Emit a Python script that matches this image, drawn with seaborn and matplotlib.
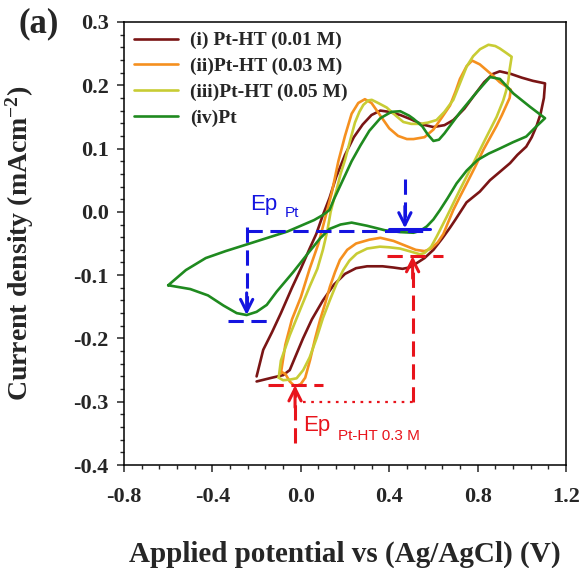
import matplotlib
matplotlib.use("Agg")
import matplotlib.pyplot as plt
from matplotlib.ticker import MultipleLocator
import pandas as pd
import seaborn as sns

# series labels and colours
labels = ["(i) Pt-HT (0.01 M)", "(ii)Pt-HT (0.03 M)", "(iii)Pt-HT (0.05 M)", "(iv)Pt"]
colors = ["#7a1515", "#f5901f", "#c8cc34", "#1f8a1f"]

# (i) Pt-HT 0.01 M : forward scan then reverse scan (V, mA cm-2)
v_i = [-0.20, -0.17, -0.13, -0.09, -0.04, 0.00, 0.04, 0.07, 0.10, 0.13, 0.16, 0.20,
       0.24, 0.28, 0.32, 0.36, 0.40, 0.45, 0.50, 0.55, 0.60, 0.65, 0.69, 0.74, 0.78,
       0.83, 0.87, 0.90, 0.95, 1.00, 1.05, 1.105,
       1.10, 1.085, 1.067, 1.045, 1.02, 0.98, 0.947, 0.90, 0.856, 0.81, 0.75, 0.70,
       0.675, 0.64, 0.60, 0.56, 0.52, 0.49, 0.46, 0.42, 0.37, 0.30, 0.25, 0.20, 0.15,
       0.10, 0.05, 0.01, -0.02, -0.05, -0.08, -0.13, -0.20]
j_i = [-0.260, -0.218, -0.190, -0.160, -0.120, -0.090, -0.058, -0.035, -0.005, 0.022,
       0.055, 0.090, 0.118, 0.138, 0.153, 0.160, 0.158, 0.153, 0.146, 0.138, 0.134,
       0.137, 0.145, 0.163, 0.182, 0.205, 0.218, 0.222, 0.218, 0.212, 0.207, 0.203,
       0.180, 0.155, 0.136, 0.118, 0.103, 0.090, 0.077, 0.063, 0.050, 0.032, 0.015,
       -0.012, -0.025, -0.042, -0.060, -0.073, -0.082, -0.088, -0.090, -0.088, -0.086,
       -0.086, -0.089, -0.098, -0.115, -0.140, -0.170, -0.200, -0.225, -0.250, -0.258,
       -0.262, -0.268]

# (ii) Pt-HT 0.03 M
v_ii = [-0.09, -0.07, -0.04, 0.00, 0.04, 0.08, 0.11, 0.14, 0.17, 0.20, 0.23, 0.26,
        0.29, 0.32, 0.36, 0.40, 0.44, 0.48, 0.51, 0.56, 0.60, 0.64, 0.675, 0.70, 0.72,
        0.75, 0.775, 0.81, 0.84, 0.87, 0.90, 0.93, 0.95,
        0.945, 0.932, 0.91, 0.886, 0.856, 0.826, 0.79, 0.751, 0.72, 0.69, 0.665, 0.645,
        0.62, 0.59, 0.56, 0.52, 0.47, 0.42, 0.36, 0.31, 0.25, 0.21, 0.177, 0.155,
        0.132, 0.11, 0.087, 0.065, 0.042, 0.02, 0.00, -0.026, -0.05, -0.07, -0.087, -0.09]
j_ii = [-0.255, -0.210, -0.170, -0.135, -0.090, -0.050, -0.010, 0.030, 0.080, 0.120,
        0.155, 0.172, 0.178, 0.172, 0.152, 0.132, 0.120, 0.115, 0.115, 0.118, 0.130,
        0.150, 0.168, 0.190, 0.210, 0.230, 0.239, 0.233, 0.224, 0.215, 0.205, 0.198, 0.193,
        0.180, 0.170, 0.153, 0.136, 0.117, 0.098, 0.072, 0.045, 0.024, 0.003, -0.018,
        -0.035, -0.048, -0.058, -0.062, -0.060, -0.053, -0.046, -0.041, -0.044, -0.050,
        -0.060, -0.076, -0.095, -0.118, -0.145, -0.171, -0.200, -0.234, -0.262, -0.272,
        -0.276, -0.268, -0.256, -0.253, -0.255]

# (iii) Pt-HT 0.05 M
v_iii = [-0.10, -0.09, -0.05, 0.00, 0.04, 0.075, 0.10, 0.12, 0.135, 0.15, 0.162, 0.18,
         0.20, 0.225, 0.245, 0.265, 0.283, 0.305, 0.321, 0.35, 0.388, 0.43, 0.464, 0.50,
         0.539, 0.575, 0.614, 0.65, 0.69, 0.72, 0.751, 0.78, 0.811, 0.849, 0.88, 0.901,
         0.93, 0.954,
         0.945, 0.939, 0.928, 0.916, 0.886, 0.841, 0.781, 0.72, 0.66, 0.615, 0.59, 0.56,
         0.539, 0.50, 0.449, 0.40, 0.358, 0.30, 0.253, 0.22, 0.192, 0.16, 0.132, 0.10,
         0.072, 0.04, 0.011, -0.019, -0.049, -0.08, -0.10]
j_iii = [-0.262, -0.235, -0.195, -0.152, -0.118, -0.090, -0.060, -0.030, 0.000, 0.020,
         0.035, 0.060, 0.082, 0.115, 0.141, 0.158, 0.169, 0.176, 0.177, 0.172, 0.165,
         0.152, 0.142, 0.139, 0.139, 0.141, 0.145, 0.158, 0.177, 0.203, 0.230, 0.246,
         0.257, 0.264, 0.262, 0.258, 0.251, 0.245,
         0.225, 0.207, 0.190, 0.176, 0.150, 0.119, 0.077, 0.035, -0.008, -0.039, -0.055,
         -0.065, -0.067, -0.063, -0.058, -0.056, -0.055, -0.058, -0.066, -0.077, -0.092,
         -0.115, -0.139, -0.168, -0.199, -0.230, -0.250, -0.263, -0.265, -0.266, -0.262]

# (iv) Pt
v_iv = [-0.60, -0.52, -0.43, -0.34, -0.24, -0.15, -0.06, 0.00, 0.06, 0.10, 0.13, 0.15,
        0.19, 0.23, 0.27, 0.31, 0.36, 0.41, 0.45, 0.49, 0.51, 0.55, 0.575, 0.60, 0.625,
        0.65, 0.72, 0.796, 0.856, 0.901, 0.962, 1.037, 1.105,
        1.06, 1.02, 0.96, 0.90, 0.85, 0.80, 0.75, 0.705, 0.665, 0.63, 0.60, 0.57, 0.54,
        0.51, 0.45, 0.38, 0.30, 0.23, 0.18, 0.13, 0.087, 0.027, -0.034, -0.109, -0.154,
        -0.20, -0.245, -0.29, -0.35, -0.42, -0.50, -0.60]
j_iv = [-0.116, -0.092, -0.073, -0.062, -0.051, -0.041, -0.031, -0.022, -0.013, -0.005,
        0.003, 0.020, 0.050, 0.080, 0.105, 0.128, 0.148, 0.158, 0.159, 0.152, 0.147,
        0.135, 0.122, 0.112, 0.114, 0.124, 0.157, 0.189, 0.213, 0.210, 0.187, 0.166, 0.148,
        0.133, 0.119, 0.110, 0.100, 0.092, 0.082, 0.065, 0.045, 0.022, 0.003, -0.012,
        -0.023, -0.030, -0.033, -0.032, -0.029, -0.022, -0.017, -0.020, -0.027, -0.042,
        -0.068, -0.095, -0.126, -0.147, -0.158, -0.163, -0.160, -0.148, -0.132, -0.122,
        -0.116]

frames = []
for lab, v, j in zip(labels, [v_i, v_ii, v_iii, v_iv], [j_i, j_ii, j_iii, j_iv]):
    frames.append(pd.DataFrame({"E": v, "J": j, "sample": lab}))
df = pd.concat(frames, ignore_index=True)

sns.set_style("ticks")
plt.rcParams["font.family"] = ["Liberation Serif", "DejaVu Serif"]
plt.rcParams["font.weight"] = "bold"
plt.rcParams["axes.unicode_minus"] = False
plt.rcParams["mathtext.fontset"] = "custom"
plt.rcParams["mathtext.rm"] = "Liberation Serif:bold"
plt.rcParams["mathtext.it"] = "Liberation Serif:bold"
plt.rcParams["mathtext.bf"] = "Liberation Serif:bold"

fig = plt.figure(figsize=(5.84, 5.68), dpi=100)
ax = fig.add_axes([0.2123, 0.1813, 0.7569, 0.78])

sns.lineplot(data=df, x="E", y="J", hue="sample", palette=colors, sort=False,
             estimator=None, lw=1.9, ax=ax)

# peak-separation markers
blue = "#1414e0"
red = "#e8141c"
ep_pt_x = [-0.245, 0.471]
ep_pt_y = [-0.163, -0.026]
ep_ht_x = [-0.026, 0.506]
ep_ht_y = [-0.274, -0.070]

dash = dict(lw=2.2, dashes=(5, 2.5))
ax.plot([ep_pt_x[0], 0.585], [-0.031, -0.031], color=blue, **dash)
ax.plot([ep_pt_x[0], ep_pt_x[0]], [-0.024, ep_pt_y[0] + 0.01], color=blue, **dash)
ax.plot([-0.328, -0.139], [-0.172, -0.172], color=blue, **dash)
ax.plot([ep_pt_x[1], ep_pt_x[1]], [0.052, ep_pt_y[1] + 0.01], color=blue, **dash)
ax.plot([0.40, 0.585], [-0.027, -0.027], color=blue, lw=2.2)
ax.plot([-0.147, 0.102], [-0.274, -0.274], color=red, **dash)
ax.plot([0.388, 0.645], [-0.070, -0.070], color=red, **dash)
ax.plot([ep_ht_x[0], ep_ht_x[0]], [-0.365, ep_ht_y[0] - 0.01], color=red, **dash)
ax.plot([ep_ht_x[1], ep_ht_x[1]], [-0.300, ep_ht_y[1] - 0.01], color=red, **dash)
ax.plot([0.011, 0.509], [-0.300, -0.300], color=red, lw=1.6, dashes=(1.2, 2.5))

arrow = dict(arrowstyle="->", lw=2.2, mutation_scale=22, shrinkA=0, shrinkB=0)
for x, y in zip(ep_pt_x, ep_pt_y):
    ax.annotate("", xy=(x, y), xytext=(x, y + 0.035), arrowprops=dict(color=blue, **arrow))
for x, y in zip(ep_ht_x, ep_ht_y):
    ax.annotate("", xy=(x, y), xytext=(x, y - 0.035), arrowprops=dict(color=red, **arrow))

sans = ["Liberation Sans", "DejaVu Sans"]
ax.text(-0.230, 0.003, "Ep", color=blue, fontsize=16, family=sans, weight="normal")
ax.text(-0.071, -0.008, "Pt", color=blue, fontsize=11, family=sans, weight="normal")
ax.text(0.011, -0.347, "Ep", color=red, fontsize=16, family=sans, weight="normal")
ax.text(0.170, -0.360, "Pt-HT 0.3 M", color=red, fontsize=11, family=sans, weight="normal")

ax.set_xlim(-0.8, 1.2)
ax.set_ylim(-0.4, 0.3)
ax.xaxis.set_major_locator(MultipleLocator(0.4))
ax.xaxis.set_minor_locator(MultipleLocator(0.08))
ax.yaxis.set_major_locator(MultipleLocator(0.1))
ax.yaxis.set_minor_locator(MultipleLocator(0.02))
ax.xaxis.set_major_formatter(plt.FormatStrFormatter("%.1f"))
ax.yaxis.set_major_formatter(plt.FormatStrFormatter("%.1f"))
ax.tick_params(which="major", direction="out", length=5, width=1.1, labelsize=16)
ax.tick_params(which="minor", direction="out", length=3, width=1.0)
ax.tick_params(axis="x", which="major", pad=11)
ax.tick_params(axis="y", which="major", pad=6)
for s in ax.spines.values():
    s.set_linewidth(1.1)
    s.set_color("black")

ax.set_xlabel("Applied potential vs (Ag/AgCl) (V)", fontsize=21, fontweight="bold")
ax.set_ylabel("Current density (mAcm$^{-2}$)", fontsize=20, fontweight="bold")
ax.xaxis.set_label_coords(0.5, -0.17)
ax.yaxis.set_label_coords(-0.2, 0.5)

fig.text(0.066, 0.958, "(a)", fontsize=25, fontweight="bold", ha="center", va="center")

ax.legend(loc="upper left", bbox_to_anchor=(0.0, 1.0), frameon=False,
          handlelength=2.3, handletextpad=0.6, labelspacing=0.42, borderaxespad=0.2,
          borderpad=0.3, prop={"weight": "bold", "size": 14})

fig.savefig("out.png", dpi=100)
